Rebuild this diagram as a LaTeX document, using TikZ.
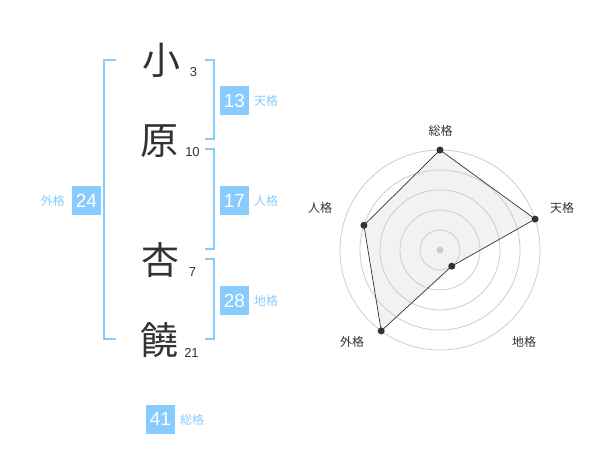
\documentclass[tikz,border=0pt]{standalone}
\usepackage{fontspec}
\setmainfont{Liberation Sans}
\newfontfamily\cjk{Noto Sans CJK JP}
\definecolor{kakublue}{HTML}{88CCFF}
\definecolor{inkgray}{HTML}{333333}
\definecolor{ringgray}{HTML}{CCCCCC}
\definecolor{areagray}{HTML}{F2F2F2}
\tikzset{
  kanji/.style={text=inkgray, inner sep=0, font=\cjk\fontsize{38}{38}\selectfont},
  strokes/.style={text=inkgray, inner sep=0, font=\fontsize{13}{13}\selectfont},
  kakubox/.style={fill=kakublue, text=white, minimum size=29, inner sep=0, font=\fontsize{19}{19}\selectfont},
  kakuname/.style={text=kakublue, inner sep=0, font=\cjk\fontsize{12}{12}\selectfont},
  bracket/.style={kakublue, line width=2},
  axisname/.style={text=inkgray, inner sep=0, font=\cjk\fontsize{12}{12}\selectfont},
}
\begin{document}
\begin{tikzpicture}[x=1pt,y=-1pt]
\useasboundingbox (0,0) rectangle (600,470);
\node[kanji] (kanji1) at (161,60){小};
\node[strokes] (num1) at (193.5,72){3};
\node[kanji] (kanji2) at (159,141.5){原};
\node[strokes] (num2) at (192.5,152.5){10};
\node[kanji] (kanji3) at (160,260){杏};
\node[strokes] (num3) at (192.5,272.5){7};
\node[kanji] (kanji4) at (159.5,340){饒};
\node[strokes] (num4) at (191.5,352.5){21};
\draw[bracket] (116,60) -- (104,60) -- (104,339) -- (116,339);
\draw[bracket] (205,60) -- (214,60) -- (214,139) -- (205,139);
\draw[bracket] (205,149) -- (214,149) -- (214,249) -- (205,249);
\draw[bracket] (205,259) -- (214,259) -- (214,339) -- (205,339);
\node[kakubox] (box1) at (234.5,100.5){13};
\node[kakuname, anchor=west] (name1) at (254,101){天格};
\node[kakubox] (box2) at (234.5,200.5){17};
\node[kakuname, anchor=west] (name2) at (254,201){人格};
\node[kakubox] (box3) at (234.5,300.5){28};
\node[kakuname, anchor=west] (name3) at (254,301){地格};
\node[kakubox] (box4) at (86.5,200.5){24};
\node[kakuname, anchor=east] (name4) at (65,201){外格};
\node[kakubox] (box5) at (160.5,419){41};
\node[kakuname, anchor=west] (name5) at (180,420){総格};
\begin{scope}[shift={(440,250)}]
\coordinate (rsou) at (-90:100);
\coordinate (rten) at (-18:100);
\coordinate (rchi) at (54:20);
\coordinate (rgai) at (126:100);
\coordinate (rjin) at (-162:80);
\fill[areagray] (rsou) -- (rten) -- (rchi) -- (rgai) -- (rjin) -- cycle;
\draw[ringgray, line width=0.8] (0,0) circle (20);
\draw[ringgray, line width=0.8] (0,0) circle (40);
\draw[ringgray, line width=0.8] (0,0) circle (60);
\draw[ringgray, line width=0.8] (0,0) circle (80);
\draw[ringgray, line width=0.8] (0,0) circle (100);
\fill[ringgray] (0,0) circle (3.5);
\draw[inkgray, line width=0.7] (rsou) -- (rten) -- (rchi) -- (rgai) -- (rjin) -- cycle;
\fill[inkgray] (rsou) circle (3.5);
\fill[inkgray] (rten) circle (3.5);
\fill[inkgray] (rchi) circle (3.5);
\fill[inkgray] (rgai) circle (3.5);
\fill[inkgray] (rjin) circle (3.5);
\end{scope}
\node[axisname] (axis1) at (440.5,131){総格};
\node[axisname] (axis2) at (562,208){天格};
\node[axisname] (axis3) at (320,208){人格};
\node[axisname] (axis4) at (352,342){外格};
\node[axisname] (axis5) at (524,342){地格};
\end{tikzpicture}
\end{document}
